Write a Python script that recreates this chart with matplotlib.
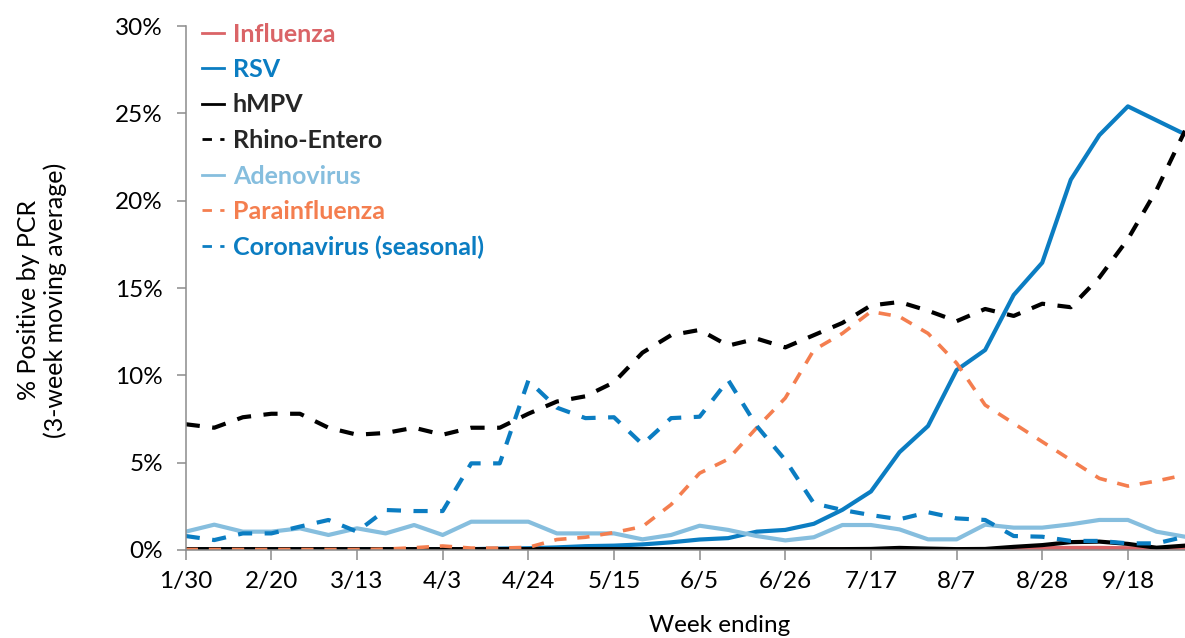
import matplotlib
matplotlib.use("Agg")
import matplotlib.pyplot as plt
import numpy as np

# --- Data (% positive by PCR, 3-week moving average) ---
weeks = ['1/30', '2/6', '2/13', '2/20', '2/27', '3/6', '3/13', '3/20', '3/27', '4/3',
         '4/10', '4/17', '4/24', '5/1', '5/8', '5/15', '5/22', '5/29', '6/5', '6/12',
         '6/19', '6/26', '7/3', '7/10', '7/17', '7/24', '7/31', '8/7', '8/14', '8/21',
         '8/28', '9/4', '9/11', '9/18', '9/25', '10/2']

influenza = [0.02] * 28 + [0.03, 0.06, 0.1, 0.12, 0.12, 0.1, 0.05, 0.05]
rsv = [0.05] * 11 + [0.08, 0.1, 0.15, 0.22, 0.25, 0.32, 0.44, 0.6, 0.68, 1.05, 1.15,
                     1.5, 2.3, 3.35, 5.6, 7.1, 10.3, 11.45, 14.6, 16.45, 21.2, 23.75,
                     25.4, 24.6, 23.8]
hmpv = [0.05] * 24 + [0.06, 0.12, 0.08, 0.05, 0.06, 0.18, 0.28, 0.45, 0.48, 0.35, 0.13, 0.25]
rhino = [7.2, 7.0, 7.6, 7.8, 7.8, 7.0, 6.6, 6.7, 7.0, 6.6, 7.0, 7.0, 7.8, 8.5, 8.8, 9.6,
         11.3, 12.3, 12.6, 11.7, 12.1, 11.6, 12.3, 13.0, 14.0, 14.2, 13.7, 13.1, 13.8,
         13.4, 14.1, 13.9, 15.6, 17.8, 20.6, 24.0]
adeno = [1.05, 1.45, 1.05, 1.05, 1.24, 0.86, 1.24, 0.95, 1.43, 0.86, 1.62, 1.62, 1.62,
         0.95, 0.95, 0.95, 0.61, 0.86, 1.39, 1.15, 0.8, 0.55, 0.73, 1.43, 1.43, 1.18,
         0.61, 0.61, 1.45, 1.28, 1.28, 1.47, 1.72, 1.72, 1.05, 0.76]
para = [0.03, 0.03, 0.03, 0.03, 0.03, 0.03, 0.03, 0.05, 0.13, 0.23, 0.11, 0.11, 0.15,
        0.6, 0.73, 1.0, 1.34, 2.6, 4.4, 5.2, 7.0, 8.7, 11.45, 12.4, 13.65, 13.36, 12.4,
        10.7, 8.3, 7.25, 6.2, 5.15, 4.1, 3.66, 3.95, 4.3]
corona = [0.8, 0.57, 0.95, 0.95, 1.34, 1.72, 1.05, 2.29, 2.23, 2.23, 4.96, 4.96, 9.7,
          8.15, 7.55, 7.6, 6.05, 7.55, 7.63, 9.73, 7.1, 5.15, 2.67, 2.29, 2.0, 1.76,
          2.16, 1.81, 1.72, 0.8, 0.76, 0.52, 0.52, 0.38, 0.38, 0.76]

names = ['Influenza', 'RSV', 'hMPV', 'Rhino-Entero', 'Adenovirus', 'Parainfluenza',
         'Coronavirus (seasonal)']
series = [influenza, rsv, hmpv, rhino, adeno, para, corona]

# style per series: line colour, text colour, dashed?, width
line_colors = ['#DA6467', '#0B7DC2', '#000000', '#000000', '#86BEDE', '#F47E4F', '#0B7DC2']
text_colors = ['#DA6467', '#0B7DC2', '#262626', '#262626', '#86BEDE', '#F47E4F', '#0B7DC2']
dashed = [False, False, False, True, False, True, True]
widths = [3.0, 3.0, 3.0, 3.0, 3.0, 2.6, 3.0]

plt.rcParams['font.family'] = ['Lato', 'DejaVu Sans']

fig = plt.figure(figsize=(11.85, 6.38), dpi=100)
ax = fig.add_axes([185.7 / 1185, 88 / 638, 999.3 / 1185, 524 / 638])

x = np.arange(len(weeks))
handles = []
for vals, name, lc, ds, lw in zip(series, names, line_colors, dashed, widths):
    if ds:
        ln, = ax.plot(x, vals, color=lc, lw=lw, linestyle=(0, (3.4, 3.0)), label=name,
                      solid_joinstyle='round')
    else:
        ln, = ax.plot(x, vals, color=lc, lw=lw, label=name, solid_joinstyle='round')
    handles.append(ln)

ax.set_xlim(0, len(weeks) - 1)
ax.set_ylim(0, 30)
ax.set_xticks(x[::3])
ax.set_xticklabels(weeks[::3])
ax.set_yticks(np.arange(0, 31, 5))
ax.set_yticklabels([f'{v}%' for v in range(0, 31, 5)])

for s in ['top', 'right']:
    ax.spines[s].set_visible(False)
for s in ['left', 'bottom']:
    ax.spines[s].set_color('#8C8C8C')
    ax.spines[s].set_linewidth(1.1)
ax.tick_params(axis='x', length=7, width=1.1, color='#8C8C8C', labelsize=17.5, pad=8)
ax.tick_params(axis='y', length=6.5, width=1.1, color='#8C8C8C', labelsize=17.5, pad=10)

leg = ax.legend(handles=handles, loc='upper left', bbox_to_anchor=(189 / 1185, 1 - 10 / 638),
                bbox_transform=fig.transFigure, frameon=False, handlelength=0.9,
                handletextpad=0.35, labelspacing=0.5, borderpad=0,
                prop={'weight': 'bold', 'size': 18})
for t, c in zip(leg.get_texts(), text_colors):
    t.set_color(c)
for h in leg.get_lines():
    h.set_linewidth(2.0)

fig.text(42 / 1185, 1 - 300 / 638, '% Positive by PCR\n(3-week moving average)',
         rotation=90, ha='center', va='center', fontsize=18, linespacing=1.15)
fig.text(720 / 1185, 1 - 625 / 638, 'Week ending', ha='center', va='center', fontsize=17.5)

fig.savefig('out.png', dpi=100)
